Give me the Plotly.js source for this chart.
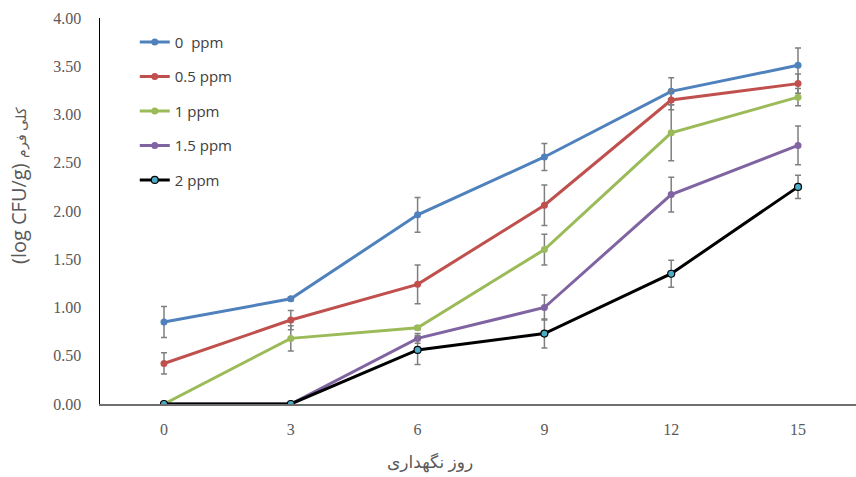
<!DOCTYPE html>
<html><head><meta charset="utf-8">
<script src="https://cdn.plot.ly/plotly-3.0.1.min.js"></script>
<style>html,body{margin:0;padding:0;background:#fff}#chart{width:856px;height:477px}</style>
</head><body><div id="chart"></div>
<script>
const days = [0, 3, 6, 9, 12, 15];
const seriesNames = ["0  ppm", "0.5 ppm", "1 ppm", "1.5 ppm", "2 ppm"];
const ppm0 = [0.85, 1.09, 1.96, 2.56, 3.24, 3.51];
const ppm0Err = [0.16, 0.02, 0.18, 0.14, 0.14, 0.18];
const ppm05 = [0.42, 0.87, 1.24, 2.06, 3.15, 3.32];
const ppm05Err = [0.11, 0.10, 0.20, 0.21, 0.10, 0.10];
const ppm1 = [0, 0.68, 0.79, 1.60, 2.81, 3.18];
const ppm1Err = [null, 0.13, 0.02, 0.16, 0.29, 0.09];
const ppm15 = [0, 0, 0.68, 1.00, 2.17, 2.68];
const ppm15Err = [null, null, 0.05, 0.13, 0.18, 0.20];
const ppm2 = [0, 0, 0.56, 0.73, 1.35, 2.25];
const ppm2Err = [null, null, 0.15, 0.15, 0.14, 0.12];
const yTicks = [0, 0.5, 1, 1.5, 2, 2.5, 3, 3.5, 4];

const colors = ["#4F81BD", "#C0504D", "#9BBB59", "#8064A2", "#000000"];
const vals = [ppm0, ppm05, ppm1, ppm15, ppm2];
const errs = [ppm0Err, ppm05Err, ppm1Err, ppm15Err, ppm2Err];

const traces = vals.map((v, i) => ({
  type: "scatter", mode: "lines+markers", x: days, y: v, name: seriesNames[i],
  legendgroup: "g" + i,
  line: {color: colors[i], width: 3},
  marker: i === 4 ? {size: 7, color: "#4BACC6", line: {color: "#000", width: 1.2}}
                  : {size: 7, color: colors[i]},
  error_y: {type: "data", array: errs[i], visible: true, color: "#7f7f7f", thickness: 1.5, width: 3}
}));

const layout = {
  width: 856, height: 477,
  margin: {l: 100, r: 0, t: 18, b: 73},
  paper_bgcolor: "#fff", plot_bgcolor: "#fff",
  showlegend: true,
  legend: {x: 0.046, y: 0.98, xanchor: "left", yanchor: "top", traceorder: "grouped", tracegroupgap: 12,
           font: {family: "Open Sans, Liberation Sans", size: 15, color: "#404040"}, bgcolor: "rgba(0,0,0,0)"},
  xaxis: {range: [-1.514, 16.372], tickvals: days, ticktext: days.map(String), showgrid: false, zeroline: false,
          showline: true, linecolor: "#6f6f6f", linewidth: 2, ticks: "", ticklabelstandoff: 10,
          tickfont: {family: "Liberation Serif", size: 16, color: "#595959"}},
  yaxis: {range: [0, 4], tickvals: yTicks, ticktext: yTicks.map(v => v.toFixed(2)), showgrid: false, zeroline: false,
          showline: true, linecolor: "#000", linewidth: 1.5, ticks: "", ticklabelstandoff: 14,
          tickfont: {family: "Liberation Serif", size: 16, color: "#595959"}},
  annotations: [
    {xref: "paper", yref: "paper", x: 0.437, y: -0.15, yanchor: "middle", xanchor: "center", showarrow: false,
     text: "روز نگهداری", font: {family: "Noto Sans, DejaVu Sans", size: 17, color: "#595959"}},
    {xref: "paper", yref: "paper", x: -0.107, y: 0.565, xanchor: "center", yanchor: "middle", showarrow: false, textangle: -90,
     text: "(log CFU/g) <span style=\"font-size:14px\">کلی فرم</span>",
     font: {family: "Open Sans, Liberation Sans", size: 20, color: "#595959"}}
  ]
};
Plotly.newPlot("chart", traces, layout, {displayModeBar: false, staticPlot: true});
</script></body></html>
